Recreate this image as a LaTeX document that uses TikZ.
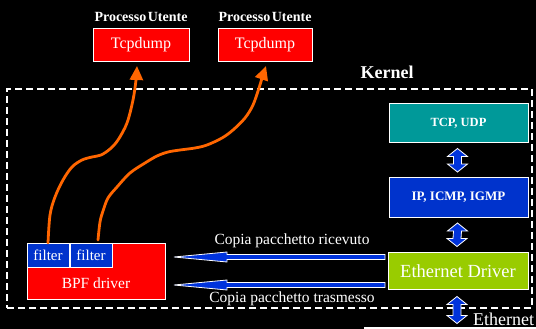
\documentclass[tikz,border=0pt]{standalone}
\usepackage{fontspec}
\setmainfont{Liberation Serif}
\usetikzlibrary{calc,arrows.meta}
\definecolor{boxred}{RGB}{255,0,0}
\definecolor{boxblue}{RGB}{0,51,204}
\definecolor{boxteal}{RGB}{0,153,153}
\definecolor{boxgreen}{RGB}{153,204,0}
\definecolor{flow}{RGB}{255,102,0}
\definecolor{fatblue}{RGB}{0,51,220}

% vertical double-headed block arrow between two points (top tip, bottom tip)
\newcommand\vdouble[2]{%
  \draw[fatarrow] (#1) -- ($(#1)+(10,8)$) -- ($(#1)+(4,8)$) -- ($(#2)+(4,-8)$)
    -- ($(#2)+(10,-8)$) -- (#2) -- ($(#2)+(-10,-8)$) -- ($(#2)+(-4,-8)$)
    -- ($(#1)+(-4,8)$) -- ($(#1)+(-10,8)$) -- cycle;}
% horizontal block arrow pointing left: (tip) <- (tail)
\newcommand\hleft[2]{%
  \draw[fatarrow] (#1) -- ($(#1)+(53,-5)$) -- ($(#1)+(53,-2.5)$) -- ($(#2)+(0,-2.5)$)
    -- ($(#2)+(0,2.5)$) -- ($(#1)+(53,2.5)$) -- ($(#1)+(53,5)$) -- cycle;}

\begin{document}
\begin{tikzpicture}[x=1pt,y=-1pt,
  box/.style={draw=white,line width=0.8pt,inner sep=0pt,outer sep=0pt,text=white},
  ttl/.style={text=white,font=\fontsize{14}{14}\selectfont\bfseries,inner sep=0pt},
  lbl/.style={text=white,font=\fontsize{15.5}{16}\selectfont,inner sep=0pt},
  fatarrow/.style={fill=fatblue,draw=white,line width=0.8pt,line join=miter},
  flowline/.style={draw=flow,line width=2.8pt,line cap=round,
    -{Triangle[length=14pt,width=13pt]}},
]
\fill[black] (0,0) rectangle (536,329);
\useasboundingbox (0,0) rectangle (536,329);

% user-space processes
\node[ttl] (p1) at (141,17) {Processo\hspace{1.5pt}Utente};
\node[ttl] (p2) at (265,17) {Processo\hspace{1.5pt}Utente};
\node[box,fill=boxred,minimum width=96pt,minimum height=33pt,
  font=\fontsize{16}{16}\selectfont] (tcp1) at (141,44.5) {Tcpdump};
\node[box,fill=boxred,minimum width=94pt,minimum height=33pt,
  font=\fontsize{16}{16}\selectfont] (tcp2) at (265,44.5) {Tcpdump};

% kernel area
\node[text=white,font=\fontsize{18}{18}\selectfont\bfseries,inner sep=0pt]
  (klabel) at (387,72) {Kernel};
\node[draw=white,line width=1.5pt,dash pattern=on 7pt off 4pt,
  minimum width=525pt,minimum height=219pt,inner sep=0pt] (kbox) at (269.5,198.5) {};

% protocol stack
\node[box,fill=boxteal,minimum width=139pt,minimum height=39pt,
  font=\fontsize{12.5}{13}\selectfont\bfseries] (tcpudp) at (458.5,123) {TCP, UDP};
\node[box,fill=boxblue,minimum width=139pt,minimum height=40pt,
  font=\fontsize{13}{14}\selectfont\bfseries] (ip) at (458.5,197) {IP, ICMP, IGMP};
\node[box,fill=boxgreen,minimum width=140pt,minimum height=37pt,
  font=\fontsize{18.5}{19}\selectfont] (eth) at (458,271) {Ethernet Driver};

% BPF driver with its filters
\node[box,fill=boxred,minimum width=138pt,minimum height=56pt] (bpf) at (96,271) {};
\node[lbl] (bpflbl) at ($(bpf.center)+(0,12)$) {BPF driver};
\node[box,fill=boxblue,minimum width=42pt,minimum height=24pt,
  font=\fontsize{15}{16}\selectfont] (f1) at (48,255) {filter};
\node[box,fill=boxblue,minimum width=42pt,minimum height=24pt,
  font=\fontsize{15}{16}\selectfont] (f2) at (91,255) {filter};

% packet copies towards BPF
\coordinate (rtip) at ($(bpf.north east)+(9,14)$);
\coordinate (rtail) at ($(eth.west)+(-3,-14)$);
\coordinate (ttip) at ($(bpf.south east)+(9,-14)$);
\coordinate (ttail) at ($(eth.west)+(-3,14)$);
\hleft{rtip}{rtail}
\hleft{ttip}{ttail}
\node[lbl] (lrx) at (292,241) {Copia pacchetto ricevuto};
\node[lbl] (ltx) at (292,299) {Copia pacchetto trasmesso};

% stack links
\vdouble{$(tcpudp.south)+(-1,6)$}{$(ip.north)+(-1,-5)$}
\vdouble{$(ip.south)+(-1,6)$}{$(eth.north)+(-1,-6)$}
\node[text=white,font=\fontsize{18}{18}\selectfont,inner sep=0pt,anchor=west]
  (ethnet) at (473,319) {Ethernet};
\vdouble{$(eth.south)+(-1,7)$}{$(eth.south)+(-1,34)$}
\draw[white,line width=1.5pt] (364,328) -- (536,328);

% filtered packets up to the user processes
\draw[flowline] plot[smooth,tension=0.55] coordinates {
  (f1.north) (50,215) (55,197) (63,180) (72,167) (82,160) (92,157) (101,155)
  (110,149) (118,140) (127,123) (133,100) (136,80) ($(tcp1.south)+(-4,5)$)};
\draw[flowline] plot[smooth,tension=0.55] coordinates {
  ($(f2.north)+(7,-3)$) (100,222) (103,211) (108,198) (117,187) (130,173)
  (145,163) (157,156) (168,152) (180,150) (195,148) (207,145) (222,138)
  (233,130) (245,118) (253,105) (259,88) (263,75) ($(tcp2.south)+(1,5)$)};
\end{tikzpicture}
\end{document}
